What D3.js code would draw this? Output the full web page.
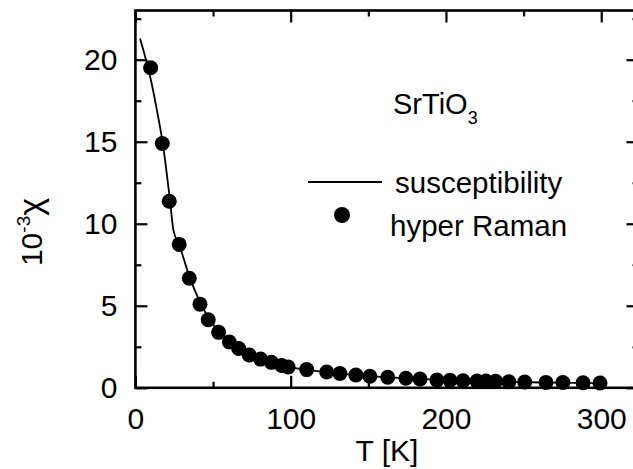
<!DOCTYPE html>
<html>
<head>
<meta charset="utf-8">
<script src="https://cdn.jsdelivr.net/npm/d3@7"></script>
<style>
  body { margin: 0; background: #fff; }
  svg { display: block; }
  text { font-family: "Liberation Sans", Arial, Helvetica, sans-serif; fill: #000; }
</style>
</head>
<body>
<svg id="chart" width="633" height="469"></svg>
<script>
// hyper Raman points (T in K, 10^-3 chi)
var dotT   = [9.8, 17.3, 21.8, 28.2, 34.7, 41.6, 46.9, 53.6, 60.5, 66.5, 73.3, 80.6, 87.6, 94.2, 98.4,
              110.3, 123.2, 131.7, 142, 151, 162.5, 174.2, 183.3, 194.2, 202.6, 211, 220, 225.7, 232,
              240.5, 250.7, 264.4, 275.3, 288.3, 299.2];
var dotChi = [19.51, 14.89, 11.37, 8.74, 6.68, 5.10, 4.15, 3.38, 2.79, 2.40, 2.00, 1.75, 1.55, 1.36, 1.27,
              1.11, 0.96, 0.87, 0.78, 0.70, 0.64, 0.58, 0.54, 0.47, 0.46, 0.43, 0.41, 0.41, 0.40,
              0.37, 0.35, 0.33, 0.32, 0.31, 0.29];

// susceptibility curve
var lineT   = [3.0, 6.8, 10, 13.9, 17.8, 22.3, 24.5, 28.1, 34.5, 41.6, 53.2, 66, 80.2, 98.3, 122.7, 170, 215, 267, 300];
var lineChi = [21.3, 20, 18.75, 16.9, 14.8, 11.4, 9.6, 8.75, 6.87, 5.22, 3.46, 2.43, 1.75, 1.27, 0.96, 0.6, 0.42, 0.32, 0.27];

var xTicks = [0, 100, 200, 300];
var xMinor = [50, 150, 250];
var yTicks = [0, 5, 10, 15, 20];
var yMinor = [2.5, 7.5, 12.5, 17.5, 22.5];

var svg = d3.select("#chart");

// plot box (window.top is taken, so use other names)
var pLeft = 135.4, pRight = 638.5, pTop = 10.5, pBottom = 387.8;

var x = d3.scaleLinear().domain([0, 324]).range([pLeft, pRight]);
var y = d3.scaleLinear().domain([0, 23]).range([pBottom, pTop]);

// frame
svg.append("rect")
  .attr("x", pLeft).attr("y", pTop)
  .attr("width", pRight - pLeft).attr("height", pBottom - pTop)
  .attr("fill", "none").attr("stroke", "#000").attr("stroke-width", 2.6);

function styleAxis(g){
  g.select(".domain").remove();
  g.selectAll(".tick line").attr("stroke", "#000").attr("stroke-width", 2.2);
  g.selectAll("text").attr("font-size", 30).attr("font-family", "Liberation Sans, Arial, sans-serif");
}

// bottom axis with labels
svg.append("g")
  .attr("transform", "translate(0," + pBottom + ")")
  .call(d3.axisBottom(x).tickValues(xTicks).tickSizeInner(-12).tickSizeOuter(0).tickPadding(20).tickFormat(d3.format("d")))
  .call(styleAxis);
svg.append("g")
  .attr("transform", "translate(0," + pBottom + ")")
  .call(d3.axisBottom(x).tickValues(xMinor).tickSizeInner(-6).tickSizeOuter(0).tickFormat(""))
  .call(styleAxis);

// top axis
svg.append("g")
  .attr("transform", "translate(0," + pTop + ")")
  .call(d3.axisTop(x).tickValues(xTicks).tickSizeInner(-12).tickSizeOuter(0).tickFormat(""))
  .call(styleAxis);
svg.append("g")
  .attr("transform", "translate(0," + pTop + ")")
  .call(d3.axisTop(x).tickValues(xMinor).tickSizeInner(-6).tickSizeOuter(0).tickFormat(""))
  .call(styleAxis);

// left axis with labels
svg.append("g")
  .attr("transform", "translate(" + pLeft + ",0)")
  .call(d3.axisLeft(y).tickValues(yTicks).tickSizeInner(-12).tickSizeOuter(0).tickPadding(18).tickFormat(d3.format("d")))
  .call(styleAxis);
svg.append("g")
  .attr("transform", "translate(" + pLeft + ",0)")
  .call(d3.axisLeft(y).tickValues(yMinor).tickSizeInner(-6).tickSizeOuter(0).tickFormat(""))
  .call(styleAxis);

// right axis
svg.append("g")
  .attr("transform", "translate(" + pRight + ",0)")
  .call(d3.axisRight(y).tickValues(yTicks).tickSizeInner(-12).tickSizeOuter(0).tickFormat(""))
  .call(styleAxis);
svg.append("g")
  .attr("transform", "translate(" + pRight + ",0)")
  .call(d3.axisRight(y).tickValues(yMinor).tickSizeInner(-6).tickSizeOuter(0).tickFormat(""))
  .call(styleAxis);

// susceptibility line
var lineData = lineT.map(function(t, i){ return {t: t, c: lineChi[i]}; });
var line = d3.line()
  .x(function(d){ return x(d.t); })
  .y(function(d){ return y(d.c); })
  .curve(d3.curveMonotoneX);

svg.append("path")
  .datum(lineData)
  .attr("d", line)
  .attr("fill", "none")
  .attr("stroke", "#000")
  .attr("stroke-width", 1.8);

// hyper Raman dots
var dotData = dotT.map(function(t, i){ return {t: t, c: dotChi[i]}; });
svg.append("g").selectAll("circle")
  .data(dotData)
  .enter().append("circle")
  .attr("cx", function(d){ return x(d.t); })
  .attr("cy", function(d){ return y(d.c); })
  .attr("r", 7.5)
  .attr("fill", "#000");

// axis titles
svg.append("text")
  .attr("x", (pLeft + pRight) / 2)
  .attr("y", 461)
  .attr("text-anchor", "middle")
  .attr("font-size", 30)
  .text("T [K]");

var yTitle = svg.append("text")
  .attr("transform", "translate(42,232) rotate(-90)")
  .attr("text-anchor", "middle")
  .attr("font-size", 30);
yTitle.append("tspan").text("10");
yTitle.append("tspan").attr("font-size", 19).attr("dy", -12).text("-3");
yTitle.append("tspan").attr("dy", 12).attr("font-size", 34).text("\u03c7");

// legend
var label = svg.append("text")
  .attr("x", 393)
  .attr("y", 114)
  .attr("font-size", 29);
label.append("tspan").text("SrTiO");
label.append("tspan").attr("font-size", 18).attr("dy", 10).text("3");

svg.append("line")
  .attr("x1", 308).attr("x2", 382)
  .attr("y1", 182).attr("y2", 182)
  .attr("stroke", "#000").attr("stroke-width", 1.8);
svg.append("text")
  .attr("x", 395).attr("y", 193)
  .attr("font-size", 29.5)
  .text("susceptibility");

svg.append("circle")
  .attr("cx", 342).attr("cy", 215)
  .attr("r", 8).attr("fill", "#000");
svg.append("text")
  .attr("x", 390).attr("y", 236)
  .attr("font-size", 29.5)
  .text("hyper Raman");
</script>
</body>
</html>
